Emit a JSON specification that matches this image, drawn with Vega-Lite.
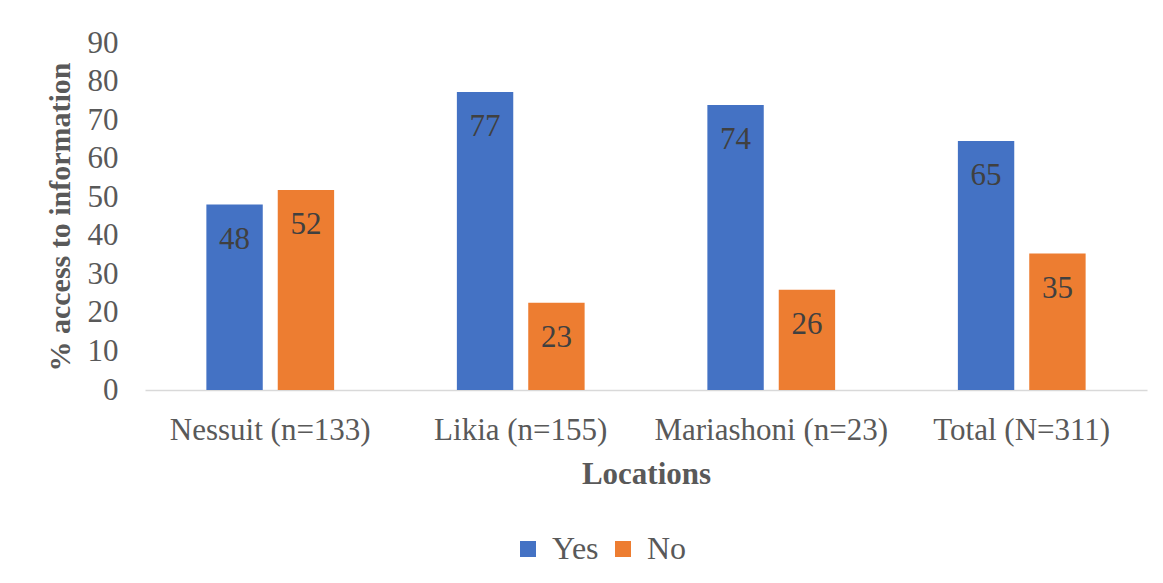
{
  "$schema": "https://vega.github.io/schema/vega-lite/v6.json",
  "width": 1002,
  "height": 347,
  "autosize": {"type": "none"},
  "padding": {"left": 145, "top": 43, "right": 16, "bottom": 193},
  "background": "white",
  "data": {
    "values": [
      {"location": "Nessuit (n=133)", "response": "Yes", "value": 48.1, "label": "48"},
      {"location": "Nessuit (n=133)", "response": "No", "value": 51.9, "label": "52"},
      {"location": "Likia (n=155)", "response": "Yes", "value": 77.3, "label": "77"},
      {"location": "Likia (n=155)", "response": "No", "value": 22.6, "label": "23"},
      {"location": "Mariashoni (n=23)", "response": "Yes", "value": 73.9, "label": "74"},
      {"location": "Mariashoni (n=23)", "response": "No", "value": 26.0, "label": "26"},
      {"location": "Total (N=311)", "response": "Yes", "value": 64.6, "label": "65"},
      {"location": "Total (N=311)", "response": "No", "value": 35.4, "label": "35"}
    ]
  },
  "encoding": {
    "x": {
      "field": "location",
      "type": "nominal",
      "sort": ["Nessuit (n=133)", "Likia (n=155)", "Mariashoni (n=23)", "Total (N=311)"],
      "scale": {"paddingInner": 0.49, "paddingOuter": 0.245},
      "axis": {
        "title": "Locations",
        "labelAngle": 0,
        "labelLimit": 0,
        "labelFont": "Liberation Serif",
        "labelFontSize": 31,
        "labelColor": "#595959",
        "labelPadding": 25,
        "ticks": false,
        "domainColor": "#d9d9d9",
        "domainWidth": 1.5,
        "titleFont": "Liberation Serif",
        "titleFontSize": 31,
        "titleFontWeight": "bold",
        "titleColor": "#595959",
        "titlePadding": 14
      }
    },
    "xOffset": {
      "field": "response",
      "type": "nominal",
      "sort": ["Yes", "No"],
      "scale": {"paddingInner": 0.21, "paddingOuter": 0}
    },
    "y": {
      "field": "value",
      "type": "quantitative",
      "scale": {"domain": [0, 90], "nice": false},
      "axis": {
        "title": "% access to information",
        "values": [0, 10, 20, 30, 40, 50, 60, 70, 80, 90],
        "grid": false,
        "domain": false,
        "ticks": false,
        "labelFont": "Liberation Serif",
        "labelFontSize": 31,
        "labelColor": "#595959",
        "labelPadding": 27,
        "titleFont": "Liberation Serif",
        "titleFontSize": 30,
        "titleFontWeight": "bold",
        "titleColor": "#595959",
        "titlePadding": 12
      }
    }
  },
  "layer": [
    {
      "mark": {"type": "bar"},
      "encoding": {
        "color": {
          "field": "response",
          "type": "nominal",
          "sort": ["Yes", "No"],
          "scale": {"domain": ["Yes", "No"], "range": ["#4472C4", "#ED7D31"]},
          "legend": {
            "title": null,
            "orient": "none",
            "direction": "horizontal",
            "legendX": 367,
            "legendY": 490,
            "symbolType": "square",
            "symbolSize": 256,
            "symbolStrokeWidth": 0,
            "labelFont": "Liberation Serif",
            "labelFontSize": 32,
            "labelColor": "#595959",
            "labelOffset": 8,
            "columnPadding": 8
          }
        }
      }
    },
    {
      "mark": {
        "type": "text",
        "baseline": "middle",
        "dy": 35,
        "font": "Liberation Serif",
        "fontSize": 31,
        "color": "#404040"
      },
      "encoding": {
        "text": {"field": "label"}
      }
    }
  ],
  "config": {
    "font": "Liberation Serif",
    "view": {"stroke": null},
    "legend": {"labelFont": "Liberation Serif"}
  }
}
